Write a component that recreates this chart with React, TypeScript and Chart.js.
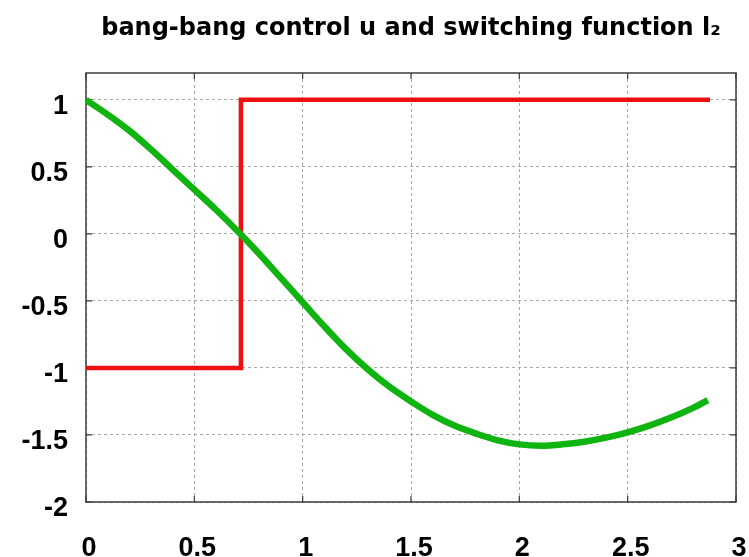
import React, { useEffect, useRef } from "react";
import { Chart, registerables } from "chart.js";

Chart.register(...registerables);

const titleText = "bang-bang control u and switching function l₂";

// bang-bang control u(t)
const controlTimes = [0, 0.715, 0.715, 2.88];
const controlValues = [-1, -1, 1, 1];

// switching function l2(t)
const switchTimes = [
  0, 0.1, 0.2, 0.3, 0.4, 0.5, 0.6, 0.7, 0.8, 0.9, 1.0, 1.1, 1.2, 1.3, 1.4,
  1.5, 1.6, 1.7, 1.8, 1.9, 2.0, 2.1, 2.2, 2.3, 2.4, 2.5, 2.6, 2.7, 2.8, 2.87,
];
const switchValues = [
  1.0, 0.89, 0.77, 0.63, 0.48, 0.33, 0.18, 0.02, -0.15, -0.33, -0.51, -0.69,
  -0.86, -1.01, -1.14, -1.25, -1.35, -1.43, -1.49, -1.54, -1.57, -1.58, -1.57,
  -1.55, -1.52, -1.48, -1.43, -1.37, -1.3, -1.24,
];

const xTicks = [0, 0.5, 1, 1.5, 2, 2.5, 3];
const yTicks = [-2, -1.5, -1, -0.5, 0, 0.5, 1];
const xRange = [0, 3];
const yRange = [-2, 1.2];

const framePlugin = {
  id: "frame",
  beforeDatasetsDraw(chart: any) {
    const { ctx, chartArea: a, scales } = chart;
    ctx.save();
    ctx.strokeStyle = "#3c3c3c";
    ctx.lineWidth = 1.5;
    ctx.strokeRect(a.left, a.top, a.right - a.left, a.bottom - a.top);
    const L = 6;
    ctx.lineWidth = 1.2;
    ctx.beginPath();
    xTicks.forEach((v) => {
      const px = scales.x.getPixelForValue(v);
      ctx.moveTo(px, a.bottom);
      ctx.lineTo(px, a.bottom - L);
      ctx.moveTo(px, a.top);
      ctx.lineTo(px, a.top + L);
    });
    yTicks.forEach((v) => {
      const py = scales.y.getPixelForValue(v);
      ctx.moveTo(a.left, py);
      ctx.lineTo(a.left + L, py);
      ctx.moveTo(a.right, py);
      ctx.lineTo(a.right - L, py);
    });
    ctx.stroke();
    ctx.restore();
  },
};

export default function App() {
  const canvasRef = useRef<HTMLCanvasElement | null>(null);

  useEffect(() => {
    document.body.style.margin = "0";
    const canvas = canvasRef.current;
    if (!canvas) return;
    const tickFont = { family: "'Liberation Sans', Arial, sans-serif", size: 27, weight: "bold" as const };
    const chart = new Chart(canvas, {
      type: "line",
      data: {
        datasets: [
          {
            label: "l2",
            data: switchTimes.map((t, i) => ({ x: t, y: switchValues[i] })),
            borderColor: "#10b410",
            borderWidth: 6.5,
            pointRadius: 0,
            tension: 0.35,
            fill: false,
          },
          {
            label: "u",
            data: controlTimes.map((t, i) => ({ x: t, y: controlValues[i] })),
            borderColor: "#ec1010",
            borderWidth: 4.5,
            pointRadius: 0,
            tension: 0,
            fill: false,
          },
        ],
      },
      options: {
        animation: false,
        responsive: false,
        layout: { padding: { left: 0, right: 13, top: 0, bottom: 0 } },
        plugins: {
          legend: { display: false },
          tooltip: { enabled: false },
          title: {
            display: true,
            text: titleText,
            fullSize: false,
            color: "#000",
            font: { family: "'DejaVu Sans', sans-serif", size: 24, weight: "bold" },
            padding: { top: 14, bottom: 30.2 },
          },
        },
        scales: {
          x: {
            type: "linear",
            min: xRange[0],
            max: xRange[1],
            afterFit: (s: any) => {
              s.height = 55;
              s.paddingLeft = 0;
              s.paddingRight = 0;
            },
            afterBuildTicks: (s: any) => {
              s.ticks = xTicks.map((v) => ({ value: v }));
            },
            ticks: {
              color: "#000",
              font: tickFont,
              padding: 30,
              labelOffset: 3,
              maxRotation: 0,
              autoSkip: false,
              callback: (v: any) => String(v),
            },
            grid: { color: "#a8a8a8", lineWidth: 1, drawTicks: false },
            border: { display: false, dash: [3, 3] },
          },
          y: {
            type: "linear",
            min: yRange[0],
            max: yRange[1],
            afterFit: (s: any) => {
              s.width = 86;
              s.paddingTop = 0;
              s.paddingBottom = 0;
            },
            afterBuildTicks: (s: any) => {
              s.ticks = yTicks.map((v) => ({ value: v }));
            },
            ticks: {
              color: "#000",
              font: tickFont,
              padding: 18,
              labelOffset: 7,
              autoSkip: false,
              callback: (v: any) => String(v),
            },
            grid: { color: "#a8a8a8", lineWidth: 1, drawTicks: false },
            border: { display: false, dash: [3, 3] },
          },
        },
      },
      plugins: [framePlugin],
    });
    return () => chart.destroy();
  }, []);

  return (
    <div style={{ width: 749, height: 557, background: "#fff" }}>
      <canvas ref={canvasRef} width={749} height={557} style={{ display: "block" }} />
    </div>
  );
}
